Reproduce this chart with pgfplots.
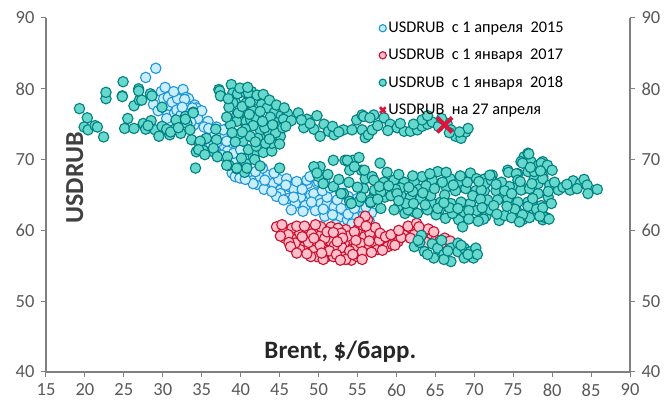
\documentclass[border=0pt]{standalone}
\usepackage{fontspec}
\setmainfont{Carlito}
\usepackage{pgfplots}
\pgfplotsset{compat=1.18}
\usetikzlibrary{calc}
\definecolor{tealF}{RGB}{102,216,204}
\definecolor{tealE}{RGB}{0,128,130}
\definecolor{blueF}{RGB}{200,238,255}
\definecolor{blueE}{RGB}{30,150,215}
\definecolor{redF}{RGB}{255,192,203}
\definecolor{redE}{RGB}{200,16,46}
\definecolor{xred}{RGB}{220,20,60}
\definecolor{axgray}{RGB}{128,128,128}
\definecolor{tickgray}{RGB}{89,89,89}
\definecolor{labgray}{RGB}{64,64,64}
\pgfplotsset{
  common/.style={scale only axis, width=584pt, height=354pt,
    xmin=15, xmax=90, ymin=40, ymax=90,
    xtick={15,20,...,90}, ytick={40,50,...,90},
    tick align=outside, major tick length=5pt,
    axis line style={draw=axgray, line width=1.1pt, -},
    tick style={draw=axgray, line width=1pt},
    tick label style={font=\fontsize{18.5}{20}\selectfont, text=tickgray},
    /pgf/number format/assume math mode=true,
  },
}
\begin{document}
\begin{tikzpicture}
\begin{axis}[common, name=ax,
  axis x line*=bottom, axis y line*=left,
  xticklabel style={yshift=-3pt}, yticklabel style={xshift=-3pt},
  legend style={at={(0.565,1.0)}, anchor=north west, draw=none, fill=none,
    font=\fontsize{16.3}{19}\selectfont, row sep=11pt,
    /tikz/every even column/.append style={column sep=2pt}},
  legend cell align=left,
]
\addplot[only marks, mark=*, mark size=5.2pt, draw=blueE, fill=blueF, line width=1.1pt,
  legend image post style={mark size=3.6pt}] coordinates {
(27.8,81.6) (29.1,82.9) (28.8,77.8) (29.8,79.6) (30.3,80.2) (30.1,78.6) (30.7,78.8) (30,77.3) (30.9,77.3) (30.6,76.3) (31.5,76.6) (31.2,78.1) (31.9,78.6) (32.6,79.9) (33,78.8) (33.3,78.6) (32.9,77.9) (34.1,77.7) (34,74.9) (34.1,76) (34.5,75.8) (32.8,78.5) (31.8,77) (32.3,76.2) (33.2,76.8) (33.6,75.3) (32.2,75.2) (34.3,77.3) (35,76.9) (35.8,75.4) (35.3,74.6) (36.3,73.7) (37.2,73.5) (36.5,73.7) (37.4,73.3) (36.8,71.8) (37.9,71.9) (38.3,71.2) (37.6,70.6) (38.6,70.4) (37.9,73.1) (38.9,72.9) (38.9,68.1) (39.3,67.6) (39.9,68.8) (41,67.9) (41.5,67) (42.1,66.5) (39.5,71.6) (40.2,70.8) (39.2,69.8) (40.5,69.5) (41.2,70.2) (38.5,74.6) (39.8,72.4) (36.1,72.3) (35.5,72.9) (37,72.5) (40.8,68.7) (41.6,66.6) (42.5,67.6) (43.8,66.6) (44.2,66.7) (43,65.8) (45.1,65.7) (45.1,65.2) (46.4,66.1) (46.8,65.9) (47.7,64.7) (48.1,66.6) (48.6,66.6) (48.5,67.1) (49,65) (49.4,65.2) (50.2,64.3) (50.3,63.8) (51.1,63.8) (51.1,62.4) (52,63.3) (52.8,61.9) (53.7,61.5) (54.6,61.9) (51.1,64.7) (52.4,64.3) (55,61) (55.8,62.3) (56.5,61.4) (53.3,62.8) (54,63.5) (50.5,65.6) (49.8,66.7) (47.2,66.9) (46.1,64.5) (44.6,64.8) (47,63.8) (48.3,63.5) (49.6,62.8) (50.8,62) (43.5,67.8) (42.8,68.8) (44.9,67.2) (45.9,67.3) (48.9,67.6) (50,66.9) (51.5,66) (52.8,65.5) (53.8,64.8) (55,64.5) (55.5,63.3) (56.8,62.5) (52.2,60.8) (54.3,60.9) (46.5,62.9) (53.1,66.5) (50.9,67.4)
(35.9,74.4) (36.9,74.6) (37.8,74.2) (38.2,72.6) (39.1,70.9) (40,71.4) (39.9,67.4) (40.6,67.2) (41.9,68.3) (43.1,67.1) (44,65.5) (45.5,64.3) (46.8,64.7) (47.9,65.8) (49.1,64) (50.6,63) (51.8,62.2) (52.9,63.1) (53.8,62.3) (55.7,61.5) (56.1,63.3) (54.6,63.1) (48,62.7) (44.3,68.1) (45.8,66.4) (31.4,79.6) (30.5,75.8) (29.4,76.9) (33.8,77.3) (32.5,77.4)
};
\addlegendentry{USDRUB\ \ с 1 апреля\ \ 2015}
\addplot[only marks, mark=*, mark size=5.2pt, draw=redE, fill=redF, line width=1.1pt,
  legend image post style={mark size=3.6pt}] coordinates {
(44.6,60.5) (45.5,59.8) (46.6,60.3) (45.7,58.9) (46.8,58.7) (47.6,59.6) (48.1,57.7) (48.8,60.1) (49.4,57.3) (49.8,58.4) (50.3,59.3) (50.7,57.3) (51.1,56.3) (51.6,60.5) (52.2,59.1) (52.7,57.3) (53.1,56.3) (53.5,60.1) (54.2,58.7) (54.8,57.7) (55,60.1) (55.7,60.7) (56.3,61.5) (55.9,59.1) (56.3,57.7) (57,58.4) (57.6,57.3) (58.5,57.7) (58.9,57.7) (60.2,58.4) (61,59.3) (61.9,60.3) (62.8,59.8) (63.6,59.3) (64.5,58.9) (65.1,58.7) (63.4,58.7) (49.8,56.3) (51.9,56.3) (54.2,55.8) (49,56.3) (55,56.3) (47.6,57.3) (51.6,58.4) (53.3,58.2) (50.3,60.5) (48.3,58.9) (46.1,59.4) (47.2,60.6) (49.1,59.5) (50.8,58.9) (52.5,60.3) (53.8,59.2) (54.6,59.8) (55.4,58.2) (56.6,59.6) (57.3,60.4) (56,62) (55.2,61.2) (53,57.6) (52,57.8) (50.2,57.9) (48.7,58.3) (47,58.2) (46.2,58.3) (51.4,57.1) (52.3,56.6) (54,57.1) (55.6,57) (56.8,56.9) (57.8,58.6) (59.5,58) (60.6,59) (61.5,60.6) (62.3,59.4) (63.9,58.3) (65.5,58.4) (66.2,58.9) (64.1,60.2) (62.6,61) (53.5,55.9) (50.6,55.9) (56.1,60.6) (45.3,60.8) (48.2,60.6) (49.6,60.8) (51.1,59.8) (52.9,59.6) (54.4,56.6) (58.2,57.2) (59.8,57.9) (65.8,58.2) (66.9,58.5)
(45.1,59.2) (46.4,57.7) (47.2,56.8) (48.5,56.7) (50.4,56.8) (51.9,59.7) (53.1,58.9) (54.8,58.6) (52.4,58.4) (49.4,58.9) (47.9,59.1) (56.5,58.5) (57.9,59.6) (58.6,59.1) (59.3,59.4) (60.3,60) (61.8,58.9) (62.9,60.5) (64.8,59.8) (55.6,55.9) (52.8,55.8)
};
\addlegendentry{USDRUB\ \ с 1 января\ \ 2017}
\addplot[only marks, mark=*, mark size=5.2pt, draw=tealE, fill=tealF, line width=1.1pt,
  legend image post style={mark size=3.6pt}] coordinates {
(19.3,77.2) (20.3,75.9) (19.9,74.6) (20.4,74.2) (21.3,74.8) (21.6,74.6) (22.4,73.2) (22.7,78.6) (22.7,79.5) (24.9,81) (24.8,79) (25.1,74.4) (25.5,75.8) (26.3,77.6) (26.3,74.4) (26.9,80) (27,78.4) (27.3,78.4) (27.5,75.1) (27.8,74.3) (28.4,79.3) (28.5,75.5) (29,74.2) (29.5,73.3) (29.9,77.4) (29.9,74.7) (30.9,73.5) (31.3,74.2) (31.7,75.6) (32.3,73.7) (32.9,76.1) (33.1,75.1) (33.9,76.7) (33.7,72.8) (34.3,71.1) (34.2,68.8) (26.9,79.7) (28.1,74.8) (30.5,74.3) (31,73.9) (32,74.5) (33.5,74.2) (24.8,78.9) (28.6,79) (34.7,72.3) (35.6,73) (35.2,71.3) (36.5,71.1) (36.9,72.8) (34.8,72.6) (34.6,71.4) (35.4,70.7) (36.5,71.6) (37,70.4) (38.3,70.4) (38.5,69.2) (38.2,69.2) (39.5,68.7) (40.5,68.2) (40.7,69.4) (41.6,70.5) (42,71.2) (40.1,70.2) (41.8,70) (40.8,68.8) (39.5,68.8) (42.5,69.1) (45,68.8) (41,71.4) (42.9,71) (44,71.2) (42,71.9) (44,72.3) (42.9,73.3) (45.1,73.3) (43.6,73.7) (42.5,74.2) (32.9,75.7)
(37.2,79.9) (37.5,79) (38.8,80.6) (39,79.4) (39.3,78.2) (39.6,79.3) (40.7,79.4) (41.4,79.6) (41.8,78.4) (39.5,76.3) (40.1,75.6) (39.5,75.4) (40.7,75.4) (41.3,75.6) (40.4,76.9) (41.5,76.9) (41.9,75.9) (37.3,79.7) (37.4,79) (41,79.4) (42.1,79.1) (39,78) (40.7,78) (42.7,77.8) (43.4,77.3) (39.7,76.6) (42,75.9) (44.3,76.6) (45.2,76.2) (46,76.5) (43.3,75.2) (44.6,75.2) (45.5,75.7) (33.9,76.6) (40.2,77.5) (41.2,78.1) (42.5,76.8) (43.8,76) (44.8,74.6) (43.1,74.5) (41.6,74.8) (40.6,74.3) (42.2,73) (44.5,73.8) (40.3,72.6) (41.2,73.3) (43.2,72.3) (39.8,73.6) (45.4,74.5) (38.7,74.9) (36.8,74.3) (38.2,76) (38.5,77.4)
(38.4,78.6) (39.9,80.1) (40.9,80.2) (42.9,79.2) (43.7,78.4) (44.6,77.7) (45.6,77.3) (46.5,75.5) (44.1,74.9) (42.8,75.4) (41.1,76.4) (40.2,73.9) (38.9,73.8) (39.3,72.5) (41.9,72.5) (43.7,72.9) (45,72.2) (45.8,74.7)
(47.4,76.6) (48.5,75.7) (49.8,76.2) (48.1,74.5) (49.4,74.3) (50.7,75) (51.3,74) (50.2,73.3) (52,73.5) (53.2,74.2) (54.3,74.2) (55.6,74.2) (54.9,75.6) (55.6,76.3) (56,73.1) (57.1,76.3) (48.9,75.1) (51.8,74.7) (47.8,75.6) (52.6,73.9)
(55.8,76.1) (56.4,73.5) (56.9,74.2) (58.4,75.9) (59.2,75) (60.1,74.5) (61,74) (61.8,74) (62.7,74.2) (63.3,74.7) (64,75) (63.3,75.6) (64.6,75.3) (65.4,74.7) (66.5,75.1) (67,74.2) (67.6,73.3) (68.3,73) (68.9,73.9) (69.2,74.4) (68.1,73.9) (64,76.2) (56.6,75.9) (60.5,75.1) (57.6,74.8) (58.9,74.1) (62.2,75) (65.8,75.8) (66.8,73.8)
(51.9,69.9) (53.4,69.9) (54.4,69.9) (54,68.5) (50.2,69) (50,67.6) (50.6,66.6) (51.9,66.2) (53.2,65.2) (54,64.1) (55.5,68.5) (56,67.3) (56.9,67.6) (55.8,65.9) (57.1,64.9) (55.2,64.1) (56.7,63.9) (49.4,69) (49.8,68.1) (53.7,69.9) (54.6,69) (55.9,68.5) (58.5,66.8) (52.9,65.2) (54.2,63.8) (55.5,64.7) (55,66.1) (56.7,64.3) (57.2,65.7) (58.5,64.7) (60.2,63.3) (61.1,62.4) (62.3,62.6) (64.6,63.8) (65.5,62.9) (67.2,62.4) (68,61.5) (66.3,61.7) (68.5,60.5) (71.5,62) (75.4,62.9) (78,63.3) (78.8,61.5) (76.2,61.5) (52.6,67.2) (53.9,66.8) (51.2,67.9)
(65.3,68.3) (63.3,67.6) (69.5,68.1) (70.3,67.3) (71.4,67.3) (72.3,67.8) (74.3,68.5) (75.6,68) (76.4,70.4) (76.9,70.9) (76,69.7) (77.3,69.7) (78.2,69.2) (78.8,69.7) (79.3,69) (78.8,67.6) (77.7,67.3) (75.2,66.1) (76.4,65.9) (78.2,65.2) (79.5,64.7) (76.9,64) (78.6,63.5) (79.3,61.8) (77.7,62.6) (57.1,67.1) (58.4,66.8) (59.7,67.1) (61,66.8) (62.3,66.8) (64.6,67.1) (66.4,66.1) (67.6,65.6) (68.9,65.9) (70.2,65.6) (71.3,65.6) (72.8,65.6) (73.7,64.7) (74.6,64.3) (75.6,64) (58,65.4) (59.3,64.9) (60.6,64.9) (61.8,64.7) (63.1,64.5) (64.4,64.9) (65.7,64) (67,63.8) (68.3,64) (69.5,63.8) (71.7,64.3) (56.7,64) (58,63.1) (59.7,62.9) (61.5,62.9) (62.7,62.4) (64,62.9) (65.1,62.2) (67.2,62.4) (68.7,62.6) (65.3,63.1) (77,70.8) (76.2,69.5) (78.6,69.5) (79.4,69.2) (74.4,68.2) (75.4,68) (76.9,68.3) (77.7,68.3) (75.6,67.1) (75.2,65.9) (76,65.7) (77.1,65.9) (78.2,66.6) (78.8,67.3) (79.7,66.4) (79.5,65.5) (71.4,66.6) (72.2,67.1) (72,67.8) (70.9,65.7) (73,64.3) (74.3,64.5) (75.2,63) (76.9,63.4) (78,63) (78.8,63.2) (79.1,61.8) (79.6,61.6) (77.1,61.8) (76.2,62.2) (73.2,61.4) (73.9,62.1) (71.2,61.6) (72,62.9) (60.5,66) (62.9,65.8) (66.2,65) (69.8,64.9) (63.8,66.3) (61.2,63.8) (66.8,63.2) (70.3,62.8) (70.8,64.4) (72.5,63.5) (74.5,66.2) (73.5,66.8) (68,66.9) (66.9,67.3) (62.1,65.5) (59.9,65.8)
(57.8,66.2) (59,66.3) (60.1,65.2) (61.6,66.1) (63.4,65.3) (64.9,65.9) (65.9,66.8) (67.3,66.4) (69.1,66.8) (70.6,66.9) (72.8,66.5) (73.9,65.6) (74.8,65.2) (75.9,66.9) (77.4,66.6) (78.5,68.4) (77.2,68.9) (80,68.5) (79.9,63.8) (77.5,64.5) (74.2,63.4) (71,63.2) (69.3,62.8) (67.9,63.1) (66.1,63.9) (63.7,63.6) (62.2,63.8) (60.3,64.2) (57.6,64.4) (69.3,61.6) (70.5,61.3) (72.9,62.3) (74.8,61.8) (75.8,61.2) (78.4,62) (66.4,68.2) (64.3,68) (68.2,67.7) (62.1,67.7) (60.3,67.9) (58.8,68.2) (55.2,70.3) (57.9,69.5)
(80.8,65.7) (81.4,66.1) (82.3,65.7) (82.7,67) (83.6,66.6) (84.1,67.2) (84.5,66.4) (84.6,65.2) (85.8,65.8) (81.9,66.5) (83.2,65.9) (80.3,66.8)
(62.3,57.7) (63.6,57) (64.6,58.1) (65.3,57.5) (66.1,56.6) (67,57.5) (67.9,57) (68.7,57.5) (69.5,57) (70.2,57.5) (69.9,56.1) (68.7,56.1) (67,55.6) (66.1,55.9) (64.8,56.1) (64,56.6) (67.9,58.2) (63,58.3) (65.8,58.6) (66.6,57.1) (68.3,57.9) (69.2,56.6) (70.4,56.6) (63.2,59.3) (62.8,58.6)
};
\addlegendentry{USDRUB\ \ с 1 января\ \ 2018}
\addplot[only marks, mark=x, mark size=10.5pt, draw=xred, line width=4pt,
  legend image post style={mark size=4pt, line width=2.5pt}] coordinates {(66.2,74.9)};
\addlegendentry{USDRUB\ \ на 27 апреля}
\node[rotate=90, font=\bfseries\fontsize{26}{28}\selectfont, text=labgray] at (axis cs:18.7,67.4) {USDRUB};
\node[font=\bfseries\fontsize{25}{27}\selectfont, text=black!85] at (axis cs:52.8,42.9) {Brent, \$/барр.};
\end{axis}
\begin{axis}[common, axis y line*=right, axis x line=none,
  yticklabel style={xshift=3pt}]
\end{axis}
\pgfresetboundingbox
\path ($(ax.south west)+(-46pt,-33pt)$) rectangle ($(ax.north east)+(35pt,18pt)$);
\end{tikzpicture}
\end{document}
